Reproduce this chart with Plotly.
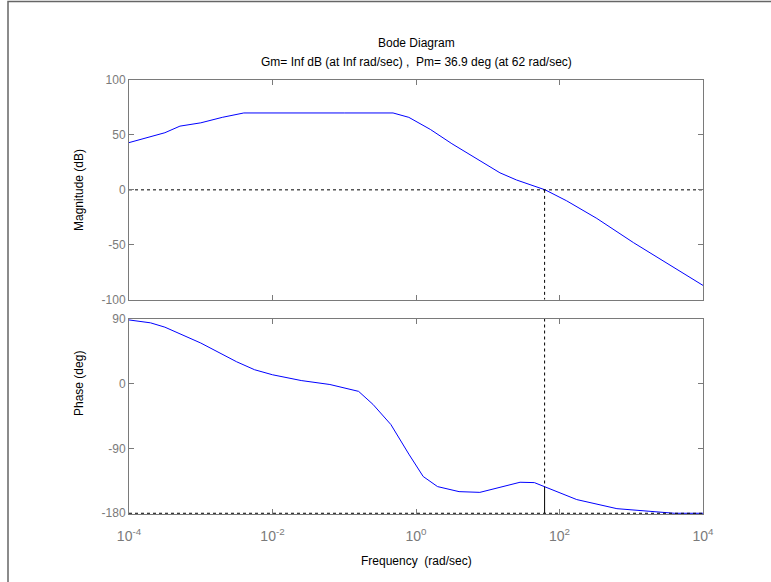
import plotly.graph_objects as go

# ---- data ----
mag_logw = [-4, -3.5, -3.29, -3.0, -2.7, -2.4, -1.0, -0.32, -0.1, 0.2, 0.5, 0.89, 1.17, 1.4, 1.59, 1.8, 2.1, 2.52, 3.03, 3.5, 4.0]
mag_db = [43, 52, 58, 61, 66, 70, 70, 70, 66, 55, 42, 27, 15.5, 9, 4.5, 0, -10, -26, -48, -67, -87]

ph_logw = [-4, -3.7, -3.5, -3.0, -2.5, -2.25, -2.0, -1.6, -1.2, -0.8, -0.6, -0.35, -0.1, 0.1, 0.3, 0.6, 0.89, 1.17, 1.45, 1.65, 1.79, 2.0, 2.24, 2.8, 3.3, 3.45, 3.6, 4.0]
ph_deg = [88, 84, 78, 56, 30, 19, 12, 4, -1.5, -11, -29, -57, -98, -129, -143, -150, -151, -144, -137, -137.5, -143.1, -152, -161, -173.6, -177, -178.5, -180, -180]

pm_freq = 62.0
pm_deg = 36.9
gm_text = "Gm= Inf dB (at Inf rad/sec) ,  Pm= 36.9 deg (at 62 rad/sec)"
title_text = "Bode Diagram"

x_tickvals = [1e-4, 1e-2, 1e0, 1e2, 1e4]
x_ticktext = ["10<sup>-4</sup>", "10<sup>-2</sup>", "10<sup>0</sup>", "10<sup>2</sup>", "10<sup>4</sup>"]
mag_ticks = [-100, -50, 0, 50, 100]
ph_ticks = [-180, -90, 0, 90]

w_min, w_max = 1e-4, 1e4

# ---- figure ----
FONT = "Liberation Sans, Arial, sans-serif"
GRAY = "#7a7a7a"
W, H = 771, 582
L, R, T, B = 129, 68, 80, 68

mag_w = [10 ** v for v in mag_logw]
ph_w = [10 ** v for v in ph_logw]
ph_cross = -180 + pm_deg

fig = go.Figure()
# magnitude
fig.add_trace(go.Scatter(x=mag_w, y=mag_db, mode="lines", line=dict(color="#0000ff", width=1),
                         xaxis="x", yaxis="y", hoverinfo="skip"))
fig.add_trace(go.Scatter(x=[w_min, w_max], y=[0, 0], mode="lines",
                         line=dict(color="black", width=1, dash="3px,3px"), xaxis="x", yaxis="y"))
fig.add_trace(go.Scatter(x=[pm_freq, pm_freq], y=[0, -100], mode="lines",
                         line=dict(color="black", width=1, dash="3px,3px"), xaxis="x", yaxis="y"))
# phase
fig.add_trace(go.Scatter(x=ph_w, y=ph_deg, mode="lines", line=dict(color="#0000ff", width=1),
                         xaxis="x2", yaxis="y2", hoverinfo="skip"))
fig.add_trace(go.Scatter(x=[w_min, w_max], y=[-180, -180], mode="lines",
                         line=dict(color="black", width=1, dash="3px,3px"), xaxis="x2", yaxis="y2"))
fig.add_trace(go.Scatter(x=[pm_freq, pm_freq], y=[90, ph_cross], mode="lines",
                         line=dict(color="black", width=1, dash="3px,3px"), xaxis="x2", yaxis="y2"))
fig.add_trace(go.Scatter(x=[pm_freq, pm_freq], y=[ph_cross, -180], mode="lines",
                         line=dict(color="black", width=1), xaxis="x2", yaxis="y2"))

ph = H - T - B
top_dom = [(514 - 299.7) / ph, 1.0]
bot_dom = [0.0, (514 - 318.5) / ph]

axis_common = dict(showline=True, linecolor=GRAY, linewidth=1, mirror="ticks",
                   ticks="inside", tickcolor=GRAY, ticklen=5, showgrid=False, zeroline=False)
tf12 = dict(family=FONT, size=12, color=GRAY)

fig.update_layout(
    width=W, height=H, margin=dict(l=L, r=R, t=T, b=B),
    paper_bgcolor="white", plot_bgcolor="white", showlegend=False,
    xaxis=dict(type="log", range=[-4, 4], domain=[0, 1], anchor="y",
               tickvals=x_tickvals, showticklabels=False, **axis_common),
    yaxis=dict(range=[-100, 100], domain=top_dom, anchor="x", tickfont=tf12,
               tickvals=mag_ticks, ticktext=[str(v) for v in mag_ticks], **axis_common),
    xaxis2=dict(type="log", range=[-4, 4], domain=[0, 1], anchor="y2",
                tickvals=x_tickvals, ticktext=x_ticktext, ticklabelstandoff=9,
                tickfont=dict(family=FONT, size=14, color=GRAY), **axis_common),
    yaxis2=dict(range=[-181, 90], domain=bot_dom, anchor="x2", tickfont=tf12,
                tickvals=ph_ticks, ticktext=[str(v) for v in ph_ticks], **axis_common),
)

def ypaper(py):
    return (H - B - py) / ph

def xpaper(px):
    return (px - L) / (W - L - R)

ann = [
    dict(text=title_text, x=0.5, y=ypaper(43)),
    dict(text=gm_text, x=0.5, y=ypaper(62)),
    dict(text="Frequency\u00a0\u00a0(rad/sec)", x=0.5, y=ypaper(561)),
    dict(text="Magnitude (dB)", x=xpaper(79), y=ypaper(190), textangle=-90),
    dict(text="Phase (deg)", x=xpaper(79), y=ypaper(384), textangle=-90),
]
for a in ann:
    fig.add_annotation(xref="paper", yref="paper", showarrow=False, xanchor="center", yanchor="middle",
                       font=dict(family=FONT, size=12, color="black"), **a)

# outer figure frame (left and top edges visible)
fig.add_shape(type="rect", xref="paper", yref="paper",
              x0=xpaper(8), x1=xpaper(W + 10), y0=ypaper(H + 10), y1=ypaper(1.5),
              line=dict(color="#666666", width=1.5), layer="below")

fig.write_html("out.html")
